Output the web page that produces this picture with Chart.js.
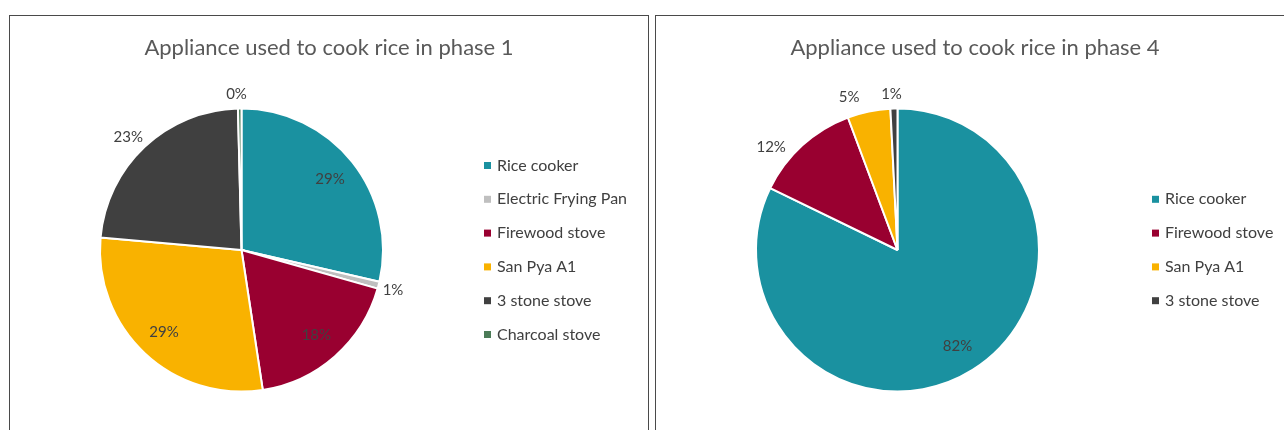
<!DOCTYPE html>
<html>
<head>
<meta charset="utf-8">
<script src="https://cdn.jsdelivr.net/npm/chart.js@4.4.1/dist/chart.umd.min.js"></script>
<style>
  body { margin: 0; background: #fff; width: 1284px; height: 430px; overflow: hidden; position: relative; }
  .panel { position: absolute; top: 15px; width: 638px; height: 430px; border: 1px solid #4a4a4a; background: #fff; }
  .panel canvas { position: absolute; left: 0; top: 0; }
</style>
</head>
<body>
<div class="panel" style="left:9px"><canvas id="phase1" width="638" height="415"></canvas></div>
<div class="panel" style="left:655px"><canvas id="phase4" width="638" height="415"></canvas></div>
<script>
// datos (porcentaje de hogares)
const phase1Labels = ['Rice cooker', 'Electric Frying Pan', 'Firewood stove', 'San Pya A1', '3 stone stove', 'Charcoal stove'];
const phase1Values = [28.6, 0.8, 18.2, 28.8, 23.2, 0.4];
const phase1Colors = ['#1A91A0', '#BFBFBF', '#990030', '#F9B200', '#404040', '#4B7B57'];

const phase4Labels = ['Rice cooker', 'Firewood stove', 'San Pya A1', '3 stone stove'];
const phase4Values = [82.2, 12.1, 4.9, 0.8];
const phase4Colors = ['#1A91A0', '#990030', '#F9B200', '#404040'];

const FONT = 'Lato, "Open Sans", sans-serif';

// etiquetas de porcentaje, titulo y leyenda dibujados a mano
const pieText = {
    id: 'pieText',
    afterDraw(chart, args, opts) {
        const ctx = chart.ctx;
        const ds = chart.data.datasets[0];
        const total = ds.data.reduce((a, b) => a + b, 0);
        const arcs = chart.getDatasetMeta(0).data;
        ctx.save();
        ctx.font = '15px ' + FONT;
        ctx.fillStyle = '#404040';
        ctx.textAlign = 'center';
        ctx.textBaseline = 'middle';
        arcs.forEach((arc, i) => {
            const p = arc.getProps(['x', 'y', 'startAngle', 'endAngle', 'outerRadius']);
            const mid = (p.startAngle + p.endAngle) / 2;
            const r = opts.outside[i] ? p.outerRadius + 18 : p.outerRadius * 0.8;
            const nd = opts.nudge[i] || [0, 0];
            const txt = Math.round(ds.data[i] / total * 100) + '%';
            ctx.fillText(txt, p.x + Math.cos(mid) * r + nd[0], p.y + Math.sin(mid) * r + nd[1]);
        });

        // titulo
        ctx.font = '22px ' + FONT;
        ctx.fillStyle = '#595959';
        ctx.fillText(opts.title, chart.width / 2, 32);

        // leyenda
        const n = chart.data.labels.length;
        const y0 = arcs[0].y - (n - 1) * 33.8 / 2;
        ctx.font = '16px ' + FONT;
        ctx.textAlign = 'left';
        chart.data.labels.forEach((lab, i) => {
            const y = y0 + i * 33.8;
            ctx.fillStyle = ds.backgroundColor[i];
            ctx.fillRect(opts.legendX, y - 3.5, 7, 7);
            ctx.fillStyle = '#404040';
            ctx.fillText(lab, opts.legendX + 13, y);
        });
        ctx.restore();
    }
};

function pie(id, labels, values, colors, opts, padding) {
    return new Chart(document.getElementById(id), {
        type: 'pie',
        data: {
            labels: labels,
            datasets: [{ data: values, backgroundColor: colors, borderColor: '#ffffff', borderWidth: 2 }]
        },
        options: {
            responsive: false,
            animation: false,
            layout: { padding: padding },
            plugins: {
                legend: { display: false },
                tooltip: { enabled: false },
                pieText: opts
            }
        },
        plugins: [pieText]
    });
}

pie('phase1', phase1Labels, phase1Values, phase1Colors,
    { title: 'Appliance used to cook rice in phase 1', legendX: 474,
      outside: [false, true, false, false, true, true],
      nudge: [null, [-3, 0], null, null, [-4, 3], [-3, 4]] },
    { left: 89, right: 264, top: 91, bottom: 38 });

pie('phase4', phase4Labels, phase4Values, phase4Colors,
    { title: 'Appliance used to cook rice in phase 4', legendX: 496,
      outside: [false, true, true, true],
      nudge: [null, [-19, 15], [-16, 3], [-2, 4]] },
    { left: 99, right: 254, top: 91, bottom: 38 });
</script>
</body>
</html>
